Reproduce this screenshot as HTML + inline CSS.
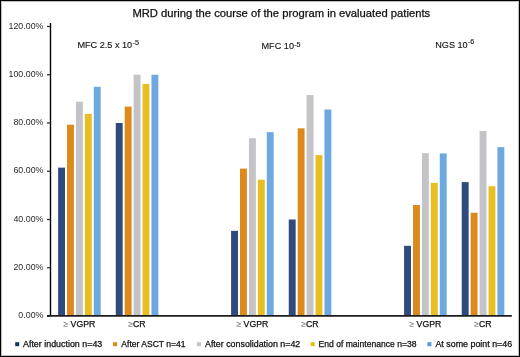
<!DOCTYPE html>
<html><head><meta charset="utf-8"><style>
html,body{margin:0;padding:0;background:#fff;}
body{width:520px;height:357px;overflow:hidden;}
svg{display:block;font-family:"Liberation Sans", sans-serif;will-change:transform;}
text{stroke:#111;stroke-width:0.25px;}
</style></head><body>
<svg width="520" height="357" viewBox="0 0 520 357">
<rect x="0" y="0" width="520" height="357" fill="#fff"/>

<rect x="58.10" y="167.63" width="6.9" height="148.37" fill="#2f4b7c"/>
<rect x="67.03" y="124.69" width="6.9" height="191.31" fill="#db8a1b"/>
<rect x="75.95" y="101.77" width="6.9" height="214.23" fill="#c4c3c8"/>
<rect x="84.88" y="113.83" width="6.9" height="202.17" fill="#e8be22"/>
<rect x="93.80" y="86.81" width="6.9" height="229.19" fill="#6ca9e1"/>
<rect x="115.76" y="123.00" width="6.9" height="193.00" fill="#2f4b7c"/>
<rect x="124.69" y="106.59" width="6.9" height="209.41" fill="#db8a1b"/>
<rect x="133.61" y="74.75" width="6.9" height="241.25" fill="#c4c3c8"/>
<rect x="142.54" y="83.92" width="6.9" height="232.08" fill="#e8be22"/>
<rect x="151.46" y="74.75" width="6.9" height="241.25" fill="#6ca9e1"/>
<rect x="231.09" y="230.84" width="6.9" height="85.16" fill="#2f4b7c"/>
<rect x="240.01" y="168.60" width="6.9" height="147.40" fill="#db8a1b"/>
<rect x="248.94" y="138.20" width="6.9" height="177.80" fill="#c4c3c8"/>
<rect x="257.86" y="179.69" width="6.9" height="136.31" fill="#e8be22"/>
<rect x="266.79" y="132.17" width="6.9" height="183.83" fill="#6ca9e1"/>
<rect x="288.75" y="219.50" width="6.9" height="96.50" fill="#2f4b7c"/>
<rect x="297.68" y="128.31" width="6.9" height="187.69" fill="#db8a1b"/>
<rect x="306.60" y="95.02" width="6.9" height="220.98" fill="#c4c3c8"/>
<rect x="315.52" y="155.09" width="6.9" height="160.91" fill="#e8be22"/>
<rect x="324.45" y="109.49" width="6.9" height="206.51" fill="#6ca9e1"/>
<rect x="404.08" y="245.80" width="6.9" height="70.20" fill="#2f4b7c"/>
<rect x="413.00" y="205.02" width="6.9" height="110.98" fill="#db8a1b"/>
<rect x="421.93" y="153.16" width="6.9" height="162.84" fill="#c4c3c8"/>
<rect x="430.85" y="182.83" width="6.9" height="133.17" fill="#e8be22"/>
<rect x="439.78" y="153.40" width="6.9" height="162.60" fill="#6ca9e1"/>
<rect x="461.74" y="182.11" width="6.9" height="133.89" fill="#2f4b7c"/>
<rect x="470.66" y="212.75" width="6.9" height="103.25" fill="#db8a1b"/>
<rect x="479.59" y="130.96" width="6.9" height="185.04" fill="#c4c3c8"/>
<rect x="488.51" y="186.21" width="6.9" height="129.79" fill="#e8be22"/>
<rect x="497.44" y="147.12" width="6.9" height="168.88" fill="#6ca9e1"/>
<line x1="50.5" y1="23" x2="50.5" y2="316.0" stroke="#000" stroke-width="1.4"/>
<line x1="47" y1="316.00" x2="50.5" y2="316.00" stroke="#333" stroke-width="1.3"/>
<line x1="47" y1="267.75" x2="50.5" y2="267.75" stroke="#333" stroke-width="1.3"/>
<line x1="47" y1="219.50" x2="50.5" y2="219.50" stroke="#333" stroke-width="1.3"/>
<line x1="47" y1="171.25" x2="50.5" y2="171.25" stroke="#333" stroke-width="1.3"/>
<line x1="47" y1="123.00" x2="50.5" y2="123.00" stroke="#333" stroke-width="1.3"/>
<line x1="47" y1="74.75" x2="50.5" y2="74.75" stroke="#333" stroke-width="1.3"/>
<line x1="47" y1="26.50" x2="50.5" y2="26.50" stroke="#333" stroke-width="1.3"/>
<line x1="47" y1="315.9" x2="511.8" y2="315.9" stroke="#1e1e1e" stroke-width="1.6"/>
<text transform="translate(43.5,318.10) scale(0.925,1)" font-size="9.6" text-anchor="end" fill="#2a2a2a" style="stroke:none">0.00%</text>
<text transform="translate(43.5,269.85) scale(0.925,1)" font-size="9.6" text-anchor="end" fill="#2a2a2a" style="stroke:none">20.00%</text>
<text transform="translate(43.5,221.60) scale(0.925,1)" font-size="9.6" text-anchor="end" fill="#2a2a2a" style="stroke:none">40.00%</text>
<text transform="translate(43.5,173.35) scale(0.925,1)" font-size="9.6" text-anchor="end" fill="#2a2a2a" style="stroke:none">60.00%</text>
<text transform="translate(43.5,125.10) scale(0.925,1)" font-size="9.6" text-anchor="end" fill="#2a2a2a" style="stroke:none">80.00%</text>
<text transform="translate(43.5,76.85) scale(0.925,1)" font-size="9.6" text-anchor="end" fill="#2a2a2a" style="stroke:none">100.00%</text>
<text transform="translate(43.5,28.60) scale(0.925,1)" font-size="9.6" text-anchor="end" fill="#2a2a2a" style="stroke:none">120.00%</text>
<text x="79.33" y="327.1" font-size="8.7" text-anchor="middle" fill="#111"><tspan fill="#666" style="stroke:none">≥</tspan> VGPR</text>
<text x="136.99" y="327.1" font-size="8.7" text-anchor="middle" fill="#111"><tspan fill="#666" style="stroke:none">≥</tspan>CR</text>
<text x="252.32" y="327.1" font-size="8.7" text-anchor="middle" fill="#111"><tspan fill="#666" style="stroke:none">≥</tspan> VGPR</text>
<text x="309.98" y="327.1" font-size="8.7" text-anchor="middle" fill="#111"><tspan fill="#666" style="stroke:none">≥</tspan>CR</text>
<text x="425.31" y="327.1" font-size="8.7" text-anchor="middle" fill="#111"><tspan fill="#666" style="stroke:none">≥</tspan> VGPR</text>
<text x="482.97" y="327.1" font-size="8.7" text-anchor="middle" fill="#111"><tspan fill="#666" style="stroke:none">≥</tspan>CR</text>
<text x="132.4" y="17" font-size="10.4" fill="#111" textLength="297.8" lengthAdjust="spacingAndGlyphs">MRD during the course of the program in evaluated patients</text>
<text x="77.4" y="47.8" font-size="9.15" fill="#111" style="stroke-width:0.12px">MFC 2.5 x 10<tspan font-size="7.2" dx="0.4" dy="-3.3">-5</tspan></text>
<text x="261.5" y="48.6" font-size="9.15" fill="#111" style="stroke-width:0.12px">MFC 10<tspan font-size="7.2" dx="0.2" dy="-1.8">-5</tspan></text>
<text x="435.2" y="47.5" font-size="9.15" fill="#111" style="stroke-width:0.12px">NGS 10<tspan font-size="7.2" dx="0.2" dy="-3.1">-6</tspan></text>
<rect x="15.2" y="342.2" width="4" height="4" fill="#15326e"/>
<text x="23" y="346.8" font-size="8.2" fill="#111" textLength="79.3" lengthAdjust="spacingAndGlyphs">After induction n=43</text>
<rect x="113.1" y="342.2" width="4" height="4" fill="#e08a08"/>
<text x="121.3" y="346.8" font-size="8.2" fill="#111" textLength="64.3" lengthAdjust="spacingAndGlyphs">After ASCT n=41</text>
<rect x="197.0" y="342.2" width="4" height="4" fill="#c5c3cb"/>
<text x="205" y="346.8" font-size="8.2" fill="#111" textLength="95.3" lengthAdjust="spacingAndGlyphs">After consolidation n=42</text>
<rect x="310.7" y="342.2" width="4" height="4" fill="#ebbd08"/>
<text x="318.5" y="346.8" font-size="8.2" fill="#111" textLength="98" lengthAdjust="spacingAndGlyphs">End of maintenance n=38</text>
<rect x="427.4" y="342.2" width="4" height="4" fill="#4f9be0"/>
<text x="435.4" y="346.8" font-size="8.2" fill="#111" textLength="76.8" lengthAdjust="spacingAndGlyphs">At some point n=46</text>
<rect x="0.5" y="0.5" width="519" height="356" fill="none" stroke="#000" stroke-width="1"/>
<rect x="1.5" y="1.5" width="517" height="354" fill="none" stroke="#000" stroke-opacity="0.25" stroke-width="1"/>
</svg></body></html>
